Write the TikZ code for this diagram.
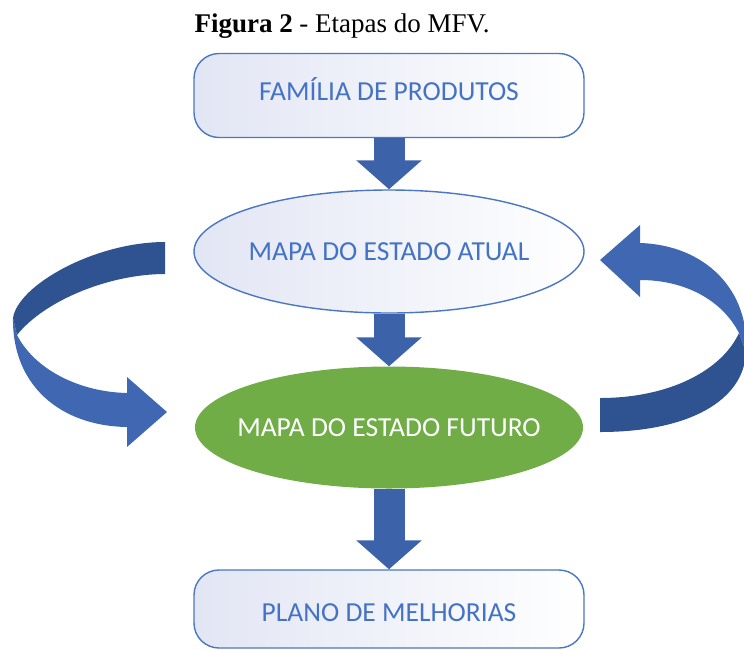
\documentclass[tikz,border=0pt]{standalone}
\usepackage{fontspec}
\setmainfont{Liberation Serif}
\newfontfamily\carlito{Carlito}
\usepackage{tikz}
\usetikzlibrary{positioning}
\usetikzlibrary{shapes.geometric}
\usetikzlibrary{arrows.meta}
\definecolor{boxline}{HTML}{4A76C4}
\definecolor{boxtext}{HTML}{4472C4}
\definecolor{boxfill}{HTML}{E2E6F4}
\definecolor{verde}{HTML}{70AD47}
\definecolor{seta}{HTML}{3C62AA}
\definecolor{bandadark}{HTML}{2F5290}
\definecolor{bandalight}{HTML}{4068B2}

\begin{document}
\begin{tikzpicture}[x=1pt,y=-1pt,node distance=150pt,on grid,
		passo/.style={inner sep=0pt,text height=18pt,text depth=0pt,font=\carlito\fontsize{27.5}{32}\selectfont},
		etapa/.style={passo,rectangle,rounded corners=25pt,draw=boxline,line width=1.4pt,left color=boxfill,right color=white,minimum width=390pt,minimum height=84pt,text=boxtext},
		mapa/.style={passo,ellipse,inner xsep=-70pt,draw=boxline,line width=1.4pt,left color=boxfill,right color=white,minimum width=390pt,minimum height=123pt,text=boxtext},
		futuro/.style={passo,ellipse,inner xsep=-70pt,fill=verde,minimum width=388pt,minimum height=122pt,text=white},
		seta/.style={draw=seta,line width=31pt,-{Triangle[length=29pt,width=64pt]}}]
		\useasboundingbox (0,0) rectangle (744,649);
		\node[anchor=base,font=\fontsize{27}{32}\selectfont] (titulo) at (342,32) {\textbf{Figura 2} - Etapas do MFV.};
		\node[etapa,text depth=9pt]  (familia) at (389,95.5)  {FAMÍLIA DE PRODUTOS};
		\node[mapa]   (atual)   [below=156pt of familia] {MAPA DO ESTADO ATUAL};
		\node[futuro] (futuro)  [below=176pt of atual] {MAPA DO ESTADO FUTURO};
		\node[etapa,minimum height=78pt,text height=24pt]  (plano)   [below=181.5pt of futuro] {PLANO DE MELHORIAS};
		
		\draw[seta] (familia.south) -- (atual.north);
		\draw[seta] (atual.south) -- (futuro.north);
		\draw[seta] (futuro.south) -- (plano.north);
		
		% seta curva da esquerda
		\fill[bandalight] (13,318) .. controls (12,385) and (60,426) .. (127,427) -- (127,447) -- (167,412) -- (127,377) -- (127,393) .. controls (80,392) and (35,370) .. (17,335) -- cycle;
		\fill[bandadark] (165,242) .. controls (95,242) and (18,285) .. (13,318) -- (17,335) .. controls (45,300) and (110,274) .. (165,274) -- cycle;
		% seta curva da direita
		\fill[bandadark] (600,398) .. controls (670,398) and (722,370) .. (739,333) -- (746,352) .. controls (744,400) and (690,432) .. (600,432) -- cycle;
		\fill[bandalight] (746,352) .. controls (750,290) and (705,245) .. (640,243) -- (640,225) -- (600,260) -- (640,297) -- (640,280) .. controls (685,280) and (722,300) .. (739,333) -- cycle;
\end{tikzpicture}
\end{document}
